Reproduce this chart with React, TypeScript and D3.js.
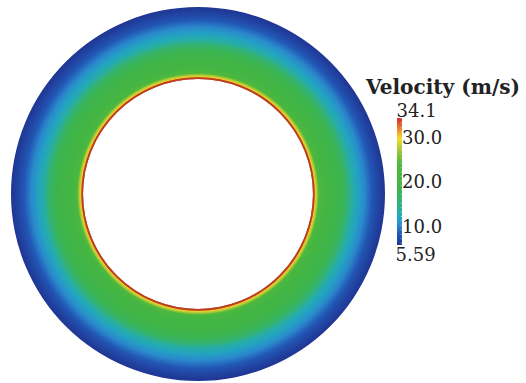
import React, { useEffect, useRef } from 'react';
import * as d3 from 'd3';

// radial velocity profile: distance from inner wall (fraction of gap) -> velocity (m/s)
const profileGap: number[] = [0, 0.015, 0.03, 0.05, 0.08, 0.12, 0.2, 0.3, 0.4, 0.48, 0.55, 0.63, 0.72, 0.82, 0.9, 1];
const profileVel: number[] = [34.1, 32, 30, 27.5, 23.5, 21, 20, 19, 17.5, 15.5, 13, 11.5, 10, 8, 6.8, 5.6];

// colormap stops (velocity -> colour)
const cmapVal: number[] = [5.59, 8, 10, 12, 15, 18, 24, 27, 29.5, 31.5, 34.1];
const cmapCol: string[] = ['#1f3593', '#2257b5', '#2a88cc', '#20aabf', '#32b27a', '#3cb449', '#52b83a', '#a8c83a', '#f2e02a', '#f08a2a', '#d8262a'];

const tickVals: number[] = [10, 20, 30];
const minVel = 5.59;
const maxVel = 34.1;
const title = 'Velocity (m/s)';

const W = 526, H = 383;
const cx = 198, cy = 194;
const rInner = 115, rOuter = 187;

export default function App() {
  const ref = useRef<SVGSVGElement>(null);

  useEffect(() => {
    const svg = d3.select(ref.current);
    svg.selectAll('*').remove();

    const color = d3.scaleLinear<string>().domain(cmapVal).range(cmapCol).interpolate(d3.interpolateRgb);
    const rScale = d3.scaleLinear().domain([0, 1]).range([rInner, rOuter]);

    const defs = svg.append('defs');
    // gradient lives in the translated ring's own coordinates, so centre is 0,0
    const rg = defs.append('radialGradient')
      .attr('id', 'ring')
      .attr('gradientUnits', 'userSpaceOnUse')
      .attr('cx', 0).attr('cy', 0).attr('r', rOuter);
    profileGap.forEach((g, i) => {
      rg.append('stop')
        .attr('offset', rScale(g) / rOuter)
        .attr('stop-color', color(profileVel[i]));
    });

    svg.append('rect').attr('width', W).attr('height', H).attr('fill', '#fff');

    const ring = svg.append('g').attr('transform', `translate(${cx},${cy})`);
    const arc = d3.arc<any>()
      .innerRadius(rInner).outerRadius(rOuter)
      .startAngle(0).endAngle(2 * Math.PI);
    ring.append('path')
      .attr('d', arc({}) as string)
      .attr('fill', 'url(#ring)');

    ring.append('circle')
      .attr('r', rInner + 0.8)
      .attr('fill', 'none')
      .attr('stroke', '#b8401e')
      .attr('stroke-width', 1.8);

    // colour bar
    const barX = 397, barW = 5, barTop = 118, barBot = 245;
    const yScale = d3.scaleLinear().domain([minVel, maxVel]).range([barBot, barTop]);
    const lg = defs.append('linearGradient')
      .attr('id', 'bar')
      .attr('x1', 0).attr('y1', 1).attr('x2', 0).attr('y2', 0);
    cmapVal.forEach((v, i) => {
      lg.append('stop')
        .attr('offset', (v - minVel) / (maxVel - minVel))
        .attr('stop-color', cmapCol[i]);
    });
    svg.append('rect')
      .attr('x', barX).attr('y', barTop)
      .attr('width', barW).attr('height', barBot - barTop)
      .attr('fill', 'url(#bar)');

    // minor ticks
    const minor = d3.range(6, 34.1, 1);
    svg.selectAll('line.minor')
      .data(minor)
      .join('line')
      .attr('class', 'minor')
      .attr('x1', barX + barW - 1.5).attr('x2', barX + barW)
      .attr('y1', d => yScale(d)).attr('y2', d => yScale(d))
      .attr('stroke', '#ccc').attr('stroke-width', 0.6);

    const font = 'DejaVu Serif';
    svg.selectAll('text.tick')
      .data(tickVals)
      .join('text')
      .attr('class', 'tick')
      .attr('x', barX + barW)
      .attr('y', d => yScale(d) + 7.5)
      .attr('font-family', font)
      .attr('font-size', 18)
      .attr('fill', '#222')
      .text(d => d.toFixed(1));

    svg.append('text')
      .attr('x', barX - 0.5).attr('y', 116.5)
      .attr('font-family', font).attr('font-size', 18).attr('fill', '#222')
      .text(maxVel.toFixed(1));
    svg.append('text')
      .attr('x', barX - 1.5).attr('y', 261)
      .attr('font-family', font).attr('font-size', 18).attr('fill', '#222')
      .text(minVel.toFixed(2));

    svg.append('text')
      .attr('x', 366).attr('y', 93.5)
      .attr('font-family', font).attr('font-size', 21).attr('font-weight', 'bold').attr('fill', '#222')
      .attr('textLength', 154).attr('lengthAdjust', 'spacingAndGlyphs')
      .text(title);
  }, []);

  return (
    <svg ref={ref} width={W} height={H} style={{ position: 'absolute', left: 0, top: 0 }} />
  );
}
